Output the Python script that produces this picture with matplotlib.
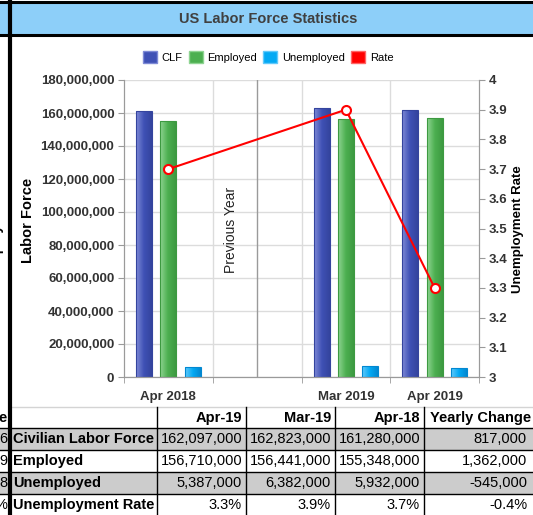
import numpy as np
import matplotlib
matplotlib.use('Agg')
import matplotlib.pyplot as plt
from matplotlib.patches import Rectangle, Patch
from matplotlib.colors import LinearSegmentedColormap
from matplotlib.ticker import FuncFormatter, MultipleLocator

plt.rcParams['font.family'] = ['Liberation Sans', 'DejaVu Sans']

# chart data
categories = ['Apr 2018', '', 'Mar 2019', 'Apr 2019']
clf = [161280000, np.nan, 162823000, 162097000]
employed = [155348000, np.nan, 156441000, 156710000]
unemployed = [5932000, np.nan, 6382000, 5387000]
rate = [3.7, np.nan, 3.9, 3.3]

# table data
table_cols = ['Apr-19', 'Mar-19', 'Apr-18', 'Yearly Change']
table_rows = ['Civilian Labor Force', 'Employed', 'Unemployed', 'Unemployment Rate']
table_vals = [
    ['162,097,000', '162,823,000', '161,280,000', '817,000'],
    ['156,710,000', '156,441,000', '155,348,000', '1,362,000'],
    ['5,387,000', '6,382,000', '5,932,000', '-545,000'],
    ['3.3%', '3.9%', '3.7%', '-0.4%'],
]
clipped_col = ['e', '6', '9', '8', '%']

W, H = 533, 515
fig = plt.figure(figsize=(W / 100, H / 100), dpi=100)

# background sheet (pixel coords)
bg = fig.add_axes([0, 0, 1, 1], zorder=-5)
bg.set_xlim(0, W)
bg.set_ylim(H, 0)
bg.axis('off')

# title band
bg.add_patch(Rectangle((0, 2), W, 33, facecolor='#8dcff9', edgecolor='none'))
bg.plot([0, W], [2, 2], color='black', lw=2.2)
bg.plot([0, W], [35, 35], color='black', lw=2.2)
bg.text(268, 19, 'US Labor Force Statistics', ha='center', va='center',
        fontsize=10.5, fontweight='bold', color='#404040')

# table
col_x = [10, 157, 246, 335, 424, 540]
row_y = [407, 428, 450, 472, 494, 516]
bg.plot([10, W], [407, 407], color='#d4d4d4', lw=1)
for i in range(1, 5):
    if i % 2 == 1:
        bg.add_patch(Rectangle((0, row_y[i]), W, row_y[i + 1] - row_y[i],
                               facecolor='#cccccc', edgecolor='none'))
for y in row_y[1:]:
    bg.plot([0, W], [y, y], color='black', lw=1)
for x in col_x[1:-1]:
    bg.plot([x, x], [407, H], color='black', lw=1)
tfs = 10.5
for j, c in enumerate(table_cols):
    xr = col_x[j + 2] - 4 if j < 3 else 531
    bg.text(xr, 418, c, ha='right', va='center', fontsize=tfs, fontweight='bold', color='black')
for i, r in enumerate(table_rows):
    yc = (row_y[i + 1] + row_y[i + 2]) / 2
    bg.text(13, yc, r, ha='left', va='center', fontsize=tfs, fontweight='bold', color='black')
    for j, v in enumerate(table_vals[i]):
        xr = col_x[j + 2] - 4 if j < 3 else 527
        bg.text(xr, yc, v, ha='right', va='center', fontsize=tfs, color='black')

# clipped column on the far left
for i, s in enumerate(clipped_col):
    yc = (row_y[i] + row_y[i + 1]) / 2
    bg.text(7, yc, s, ha='right', va='center', fontsize=tfs,
            fontweight='bold' if i == 0 else 'normal', color='black')
bg.text(-3, 225, 'Unemployment Rate', rotation=90, ha='center', va='center',
        fontsize=10, fontweight='bold', color='black')
bg.plot([10, 10], [0, H], color='black', lw=3)

# main chart
ax = fig.add_axes([124 / W, 1 - 377 / H, (479 - 124) / W, (377 - 80) / H])
x = np.arange(len(categories))
bw = 0.18
off = 0.272

series = [
    (clf, '#3f51b5', '#7e8ad6', '#34449e'),
    (employed, '#4caf50', '#8fd492', '#3d9a41'),
    (unemployed, '#03a9f4', '#62c9fa', '#0288d1'),
]
for k, (vals, col, light, edge) in enumerate(series):
    bars = ax.bar(x + (k - 1) * off, vals, width=bw, facecolor='none',
                  edgecolor=edge, lw=0.8, zorder=3)
    cmap = LinearSegmentedColormap.from_list('g%d' % k, [light, col, edge])
    grad = np.linspace(0, 1, 64).reshape(1, -1)
    for b in bars:
        if np.isnan(b.get_height()):
            continue
        im = ax.imshow(grad, extent=[b.get_x(), b.get_x() + b.get_width(), 0, b.get_height()],
                       aspect='auto', cmap=cmap, zorder=2, origin='lower')
        im.set_clip_path(b)

ax.set_xlim(-0.5, len(categories) - 0.5)
ax.set_ylim(0, 180000000)
ax.yaxis.set_major_locator(MultipleLocator(20000000))
ax.yaxis.set_major_formatter(FuncFormatter(lambda v, p: '{:,.0f}'.format(v)))
ax.grid(axis='y', color='#dcdcdc', lw=1, zorder=0)
for xv in [0.5, 1.5, 2.5]:
    ax.axvline(xv, color='#dcdcdc', lw=1, zorder=0)
ax.axvline(1.0, color='#9a9a9a', lw=1, zorder=1)
ax.set_axisbelow(True)

ax.set_xticks(x)
ax.set_xticklabels(categories)
ax.set_xticks([-0.5, 0.5, 1.0, 1.5, 2.5, 3.5], minor=True)
ax.tick_params(axis='x', which='major', length=0, pad=10, labelsize=9.5, labelcolor='#333333')
ax.tick_params(axis='x', which='minor', length=4, color='#9a9a9a', direction='out')
ax.tick_params(axis='y', length=4, color='#9a9a9a', labelsize=9.5, labelcolor='#333333', pad=3)
for lbl in ax.get_xticklabels() + ax.get_yticklabels():
    lbl.set_fontweight('bold')
ax.spines['top'].set_visible(False)
for s in ['left', 'bottom', 'right']:
    ax.spines[s].set_color('#9a9a9a')

ax.text(0.705, 0.495, 'Previous Year', rotation=90, ha='center', va='center',
        fontsize=10, color='#222222', transform=ax.get_xaxis_transform())

# rate line on secondary axis
ax2 = ax.twinx()
rate_arr = np.array(rate)
ok = ~np.isnan(rate_arr)
ax2.plot(x[ok], rate_arr[ok], color='#ff0000', lw=1.5, marker='o', ms=6.5,
         markerfacecolor='white', markeredgecolor='#ff0000', markeredgewidth=1.5, zorder=5)
ax2.set_ylim(3, 4)
ax2.yaxis.set_major_locator(MultipleLocator(0.1))
ax2.yaxis.set_major_formatter(FuncFormatter(lambda v, p: '{:g}'.format(round(v, 1))))
ax2.tick_params(axis='y', length=4, color='#9a9a9a', labelsize=9.5, labelcolor='#333333', pad=3)
for lbl in ax2.get_yticklabels():
    lbl.set_fontweight('bold')
ax2.spines['top'].set_visible(False)
for s in ['left', 'bottom', 'right']:
    ax2.spines[s].set_color('#9a9a9a')

# axis titles
fig.text(28 / W, 1 - 220 / H, 'Labor Force', rotation=90, ha='center', va='center',
         fontsize=10.5, fontweight='bold', color='black')
fig.text(518 / W, 1 - 229 / H, 'Unemployment Rate', rotation=90, ha='center', va='center',
         fontsize=9.5, fontweight='bold', color='black')

# legend
handles = [Patch(facecolor='#3f51b5', edgecolor='#7e8ad6'),
           Patch(facecolor='#4caf50', edgecolor='#8fd492'),
           Patch(facecolor='#03a9f4', edgecolor='#62c9fa'),
           Patch(facecolor='#ff0000', edgecolor='#ff6666')]
fig.legend(handles, ['CLF', 'Employed', 'Unemployed', 'Rate'], loc='center',
           bbox_to_anchor=(268 / W, 1 - 57 / H), ncol=4, frameon=False, fontsize=8,
           handlelength=1.25, handleheight=1.25, handletextpad=0.4, columnspacing=0.6)

fig.savefig('out.png', dpi=100)
